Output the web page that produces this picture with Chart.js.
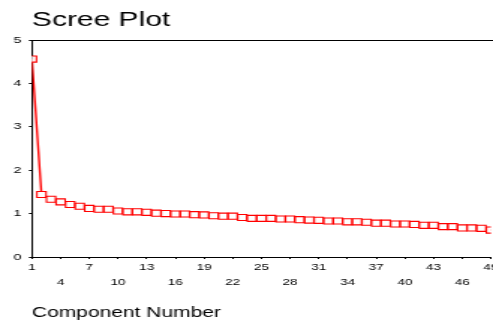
<!DOCTYPE html>
<html>
<head>
<meta charset="utf-8">
<script src="https://cdn.jsdelivr.net/npm/chart.js@4"></script>
<style>
  html, body { margin: 0; padding: 0; background: #fff; overflow: hidden; }
  /* the reference is drawn narrow and stretched sideways, and cut off at the right */
  #wrap { width: 333px; height: 320px; transform: scaleX(1.4985); transform-origin: 0 0; }
</style>
</head>
<body>
<div id="wrap"><canvas id="scree" width="333" height="320"></canvas></div>
<script>
// Scree plot data
const components = [1, 2, 3, 4, 5, 6, 7, 8, 9, 10, 11, 12, 13, 14, 15, 16, 17, 18, 19, 20,
  21, 22, 23, 24, 25, 26, 27, 28, 29, 30, 31, 32, 33, 34, 35, 36, 37, 38, 39, 40,
  41, 42, 43, 44, 45, 46, 47, 48, 49];
const eigenvalues = [4.56, 1.44, 1.33, 1.27, 1.21, 1.17, 1.12, 1.10, 1.10, 1.06,
  1.04, 1.04, 1.03, 1.01, 1.00, 0.99, 0.99, 0.975, 0.97, 0.95,
  0.94, 0.94, 0.91, 0.89, 0.89, 0.89, 0.875, 0.875, 0.86, 0.85,
  0.845, 0.83, 0.83, 0.81, 0.81, 0.80, 0.78, 0.78, 0.76, 0.76,
  0.75, 0.73, 0.73, 0.70, 0.70, 0.67, 0.67, 0.66, 0.62];
const xTicks = [1, 4, 7, 10, 13, 16, 19, 22, 25, 28, 31, 34, 37, 40, 43, 46, 49];
const yTicks = [0, 1, 2, 3, 4, 5];

const font = 'Arial, "Liberation Sans", sans-serif';

// line along the top of the plot area
const topBorder = {
  id: 'topBorder',
  afterDraw(chart) {
    const a = chart.chartArea, ctx = chart.ctx;
    ctx.save();
    ctx.strokeStyle = '#000';
    ctx.lineWidth = 1;
    ctx.beginPath();
    ctx.moveTo(a.left, a.top + 0.5);
    ctx.lineTo(chart.width, a.top + 0.5);
    ctx.stroke();
    ctx.restore();
  }
};

new Chart(document.getElementById('scree'), {
  type: 'line',
  data: {
    datasets: [{
      data: components.map((c, i) => ({ x: c, y: eigenvalues[i] })),
      borderColor: '#ff0000',
      borderWidth: 1.4,
      pointStyle: 'rect',
      pointRadius: 4.3,
      pointBorderWidth: 1.1,
      pointBorderColor: '#ff0000',
      pointBackgroundColor: '#ffffff',
      tension: 0
    }]
  },
  options: {
    responsive: false,
    animation: false,
    layout: { padding: { left: 0, right: -1, top: 0, bottom: 0 } },
    plugins: {
      legend: { display: false },
      tooltip: { enabled: false },
      title: {
        display: true,
        text: 'Scree Plot',
        align: 'start',
        fullSize: false,
        color: '#000',
        font: { family: font, size: 20, weight: 'normal' },
        padding: { top: 8, bottom: 8 }
      }
    },
    scales: {
      x: {
        type: 'linear',
        min: 1,
        max: 49,
        afterBuildTicks: s => { s.ticks = xTicks.map(v => ({ value: v })); },
        afterFit: s => { s.height = 63; s.paddingLeft = 0; s.paddingRight = 0; },
        ticks: {
          autoSkip: false,
          maxRotation: 0,
          color: '#000',
          padding: 1,
          font: { family: font, size: 9, lineHeight: 1.67 },
          callback: (v, i) => i % 2 === 0 ? String(v) : ['', String(v)]
        },
        grid: { drawOnChartArea: false, tickLength: 2, tickColor: '#000' },
        border: { color: '#000', width: 1 },
        title: {
          display: true,
          text: 'Component Number',
          align: 'start',
          color: '#000',
          font: { family: font, size: 14 },
          padding: { top: 0, bottom: -2 }
        }
      },
      y: {
        min: 0,
        max: 5,
        afterBuildTicks: s => { s.ticks = yTicks.map(v => ({ value: v })); },
        afterFit: s => { s.width = 21.3; s.paddingTop = 0; s.paddingBottom = 0; },
        ticks: {
          color: '#000',
          padding: 5,
          font: { family: font, size: 9.5 }
        },
        grid: { drawOnChartArea: false, tickLength: 2, tickColor: '#000' },
        border: { color: '#000', width: 1 }
      }
    }
  },
  plugins: [topBorder]
});
</script>
</body>
</html>
